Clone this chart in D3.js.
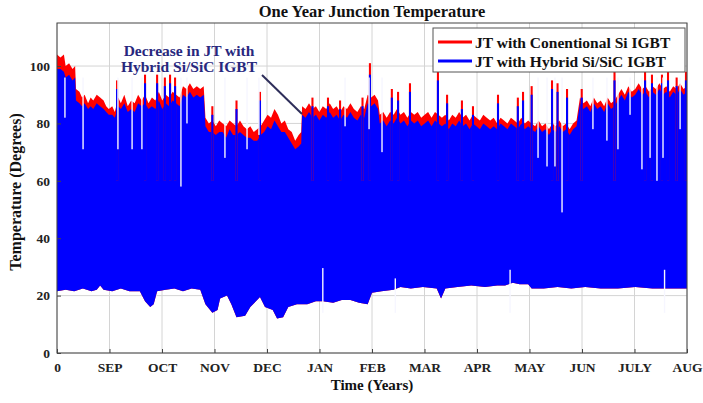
<!DOCTYPE html>
<html>
<head>
<meta charset="utf-8">
<script src="https://cdn.jsdelivr.net/npm/d3@7"></script>
<style>
  body { margin: 0; background: #fff; }
  text { font-family: "Liberation Serif", "Times New Roman", serif; font-weight: bold; }
</style>
</head>
<body>
<div id="chart"></div>
<script>
// Tick labels along the year (equal month spacing, in days)
var monthLabels = ["0", "SEP", "OCT", "NOV", "DEC", "JAN", "FEB", "MAR", "APR", "MAY", "JUN", "JULY", "AUG"];
var yTicks = [0, 20, 40, 60, 80, 100];

// Upper envelope of the daily maximum (day, conventional Si, hybrid Si/SiC)
var topDay = [0, 2, 4, 5, 7, 9, 10.5, 11, 13, 14.5, 16, 18, 19.5, 21, 23, 25, 27, 28.5, 30, 32, 33.5, 35.5, 37, 39, 41, 43, 45,
    47, 49, 51, 53, 55, 57, 59, 61, 63, 65, 67, 69, 71, 73, 75, 77, 79, 81, 83, 85,
    86, 88, 90, 92, 94, 96, 98, 100, 102, 104, 106, 108, 110, 112, 114, 116, 118, 120, 122, 124, 126, 128, 130, 132, 134, 136, 138, 140, 141.5,
    142, 144, 146, 148, 150, 152, 154, 156, 158, 160, 162, 164, 166, 168, 170, 172, 174, 176, 178, 180, 182, 184, 186,
    187, 189, 191, 193, 195, 197, 199, 201, 203, 205, 207, 209, 211, 213, 215, 217, 219, 221, 223, 225, 227, 229, 231, 233, 235, 237, 239, 241, 243, 245,
    247, 249, 251, 253, 255, 257, 259, 261, 263, 265, 267, 269, 271, 273, 275, 277, 279, 281, 283, 285, 287, 289, 291, 293, 295, 297, 299, 301,
    303, 305, 307, 309, 311, 313, 315, 317, 319, 321, 323, 325, 327, 329, 331, 333, 335, 337, 339, 341, 343, 345, 347, 349, 351, 353, 355, 357, 359, 361, 363, 365];
var redTop = [104, 103, 104, 100, 101, 99, 100, 92, 91, 89, 90, 87, 89, 88, 90, 89, 88, 86, 85, 86, 84, 89, 87, 90, 86, 88, 87,
    90, 88, 90, 87, 89, 88, 91, 88, 90, 89, 91, 90, 89, 93, 92, 94, 92, 93, 92, 93,
    82, 80, 81, 79, 81, 80, 79, 81, 80, 79, 81, 79, 78, 79, 77, 78, 79, 81, 83, 82, 85, 83, 80, 81, 78, 77, 74, 76, 77,
    86, 85, 87, 85, 86, 84, 86, 85, 87, 85, 86, 84, 86, 85, 87, 85, 84, 86, 85, 90, 89, 90, 88,
    83, 84, 82, 84, 83, 85, 83, 84, 82, 84, 83, 84, 82, 83, 84, 82, 84, 83, 82, 83, 81, 83, 82, 84, 82, 83, 81, 83, 82, 81,
    83, 82, 81, 82, 80, 82, 81, 80, 82, 81, 80, 82, 80, 81, 80, 79, 81, 79, 80, 78, 80, 79, 81, 79, 80, 78, 80, 81,
    89, 87, 88, 86, 89, 87, 88, 86, 89, 87, 88, 90, 92, 90, 93, 91, 92, 94, 92, 93, 91, 93, 92, 94, 92, 93, 91, 93, 92, 94, 92, 93];
var blueTop = [99, 99, 98, 96, 97, 95, 96, 88, 87, 86, 87, 85, 86, 85, 87, 86, 85, 84, 83, 83, 82, 86, 85, 87, 84, 85, 84,
    87, 86, 87, 85, 86, 85, 88, 85, 87, 86, 88, 87, 86, 90, 89, 91, 89, 90, 89, 90,
    79, 77, 77, 76, 77, 77, 75, 78, 76, 76, 77, 76, 75, 75, 74, 74, 76, 77, 79, 78, 81, 79, 77, 77, 75, 73, 71, 72, 73,
    83, 82, 84, 82, 83, 81, 83, 82, 84, 82, 83, 81, 83, 82, 84, 82, 81, 83, 82, 87, 86, 87, 85,
    80, 81, 79, 81, 80, 82, 80, 81, 79, 81, 80, 81, 79, 80, 81, 79, 81, 80, 79, 80, 78, 80, 79, 81, 79, 80, 78, 80, 79, 78,
    80, 79, 78, 79, 78, 80, 79, 78, 80, 79, 78, 80, 78, 79, 78, 77, 79, 77, 78, 76, 78, 77, 79, 77, 78, 76, 78, 79,
    87, 85, 86, 84, 87, 85, 86, 84, 87, 85, 86, 88, 90, 88, 91, 89, 90, 92, 90, 91, 89, 91, 90, 92, 90, 91, 89, 91, 90, 92, 90, 91];

// Lower envelope of the daily minimum (same for both devices)
var minDay = [0, 5, 10, 15, 20, 23, 25, 27, 32, 37, 42, 48, 51, 54, 56, 58, 63, 68, 73, 78,
    83, 86, 90, 93, 94.5, 98.5, 101, 104, 109, 112, 117.6, 120.5, 125, 127.5, 131, 134, 139, 145, 150, 154,
    160, 165, 170, 175, 180, 182.5, 188, 195, 199, 205, 212, 220, 222.5, 225, 232, 240, 248, 255, 259.6, 264,
    268, 273, 275, 282, 290, 298, 306, 315, 325, 335, 345, 355, 365];
var minTemp = [21.5, 22, 21.5, 22.5, 21.5, 22, 23.5, 22, 21.5, 22.5, 21.5, 21.5, 18, 16, 17, 21.5, 22, 22.5, 21.5, 22.5,
    22, 17, 14, 15, 19, 20, 17, 12.5, 13, 16, 19.5, 16, 15, 12, 12.5, 16, 17, 17, 18, 18,
    17.5, 18.5, 18.5, 17.5, 17, 21, 21.5, 22, 23, 22.5, 23, 22.5, 19, 22.5, 23, 23.5, 23, 23.5, 23.5, 24.5,
    24, 24, 22.5, 22.5, 23, 22.5, 23, 22.5, 22.5, 23, 22.5, 22.5, 22.5];

// Single hot days poking above the envelope
var peakDay  = [34.8, 51, 58, 62.5, 65.5, 68.4, 90, 104, 117.6, 148, 157, 164, 177, 181.3, 194, 197.6, 204.5, 220.7, 226, 234.6, 241, 255.5, 267, 270, 275, 286.8, 290, 295.5, 304, 323, 340.7, 344.7, 350.5, 354, 359, 364.4];
var peakRed  = [95, 97, 97, 96, 97, 96, 86, 88, 91, 89, 89, 88, 89, 101, 92, 91, 94, 98, 90, 88, 86, 90, 89, 91, 93, 95, 94, 92, 92, 98, 98, 97, 97, 98, 96, 98];
var peakBlue = [92, 94, 94, 93, 94, 93, 83, 85, 88, 86, 86, 85, 86, 97, 89, 88, 91, 95, 87, 85, 83, 87, 86, 88, 90, 92, 91, 89, 89, 95, 95, 94, 94, 95, 93, 95];

// Cool days: daily maximum drops well below the envelope
var dipDay = [4.6, 15.1, 35.3, 43.5, 49.2, 71.8, 75.3, 97.3, 110.1, 117, 166.9, 180.8, 188.3, 278.7, 283.9, 288.5, 292.6, 310.5, 318.6, 325, 332, 338.9, 343.6, 347.6, 351.1, 361];
var dipMax = [82, 71, 71, 71, 71, 58, 80, 68, 71, 76, 79, 78, 70, 68, 65, 65, 49, 78, 74, 71, 83, 64, 68, 60, 68, 78];

// Warm nights: daily minimum rises above the envelope
var riseDay = [154, 196, 262.5, 352];
var riseMin = [29.6, 26, 29, 29];

var svgWidth = 703;
var svgHeight = 403;
var margin = { top: 23, right: 16, bottom: 50, left: 57 };
var width = svgWidth - margin.left - margin.right;
var height = svgHeight - margin.top - margin.bottom;

var svg = d3.select("#chart")
    .append("svg")
    .attr("width", svgWidth)
    .attr("height", svgHeight);

var chartGroup = svg.append("g")
    .attr("transform", `translate(${margin.left}, ${margin.top})`);

var xScale = d3.scaleLinear().domain([0, 365]).range([0, width]);
var yScale = d3.scaleLinear().domain([0, 115]).range([height, 0]);
var monthTicks = monthLabels.map((m, i) => i * 365 / 12);

// Grid
chartGroup.append("g")
    .selectAll("line")
    .data(monthTicks)
    .enter()
    .append("line")
    .attr("x1", d => xScale(d)).attr("x2", d => xScale(d))
    .attr("y1", 0).attr("y2", height)
    .attr("stroke", "#d4d4d4").attr("stroke-width", 1);
chartGroup.append("g")
    .selectAll("line")
    .data(yTicks)
    .enter()
    .append("line")
    .attr("x1", 0).attr("x2", width)
    .attr("y1", d => yScale(d)).attr("y2", d => yScale(d))
    .attr("stroke", "#d4d4d4").attr("stroke-width", 1);

// Envelope areas
var topRows = topDay.map((d, i) => ({ day: d, red: redTop[i], blue: blueTop[i] }));
var minRows = minDay.map((d, i) => ({ day: d, v: minTemp[i] }));

// Closed band: top edge left->right, then min edge right->left
function bandPath(key) {
    var upper = d3.line().x(d => xScale(d.day)).y(d => yScale(d[key]))(topRows);
    var lower = d3.line().x(d => xScale(d.day)).y(d => yScale(d.v))(minRows.slice().reverse());
    return upper + "L" + lower.slice(1) + "Z";
}

chartGroup.append("path")
    .attr("d", bandPath("red"))
    .attr("fill", "#ff0000");
chartGroup.append("path")
    .attr("d", bandPath("blue"))
    .attr("fill", "#0000ff");

// Peaks
var peakRows = peakDay.map((d, i) => ({ day: d, red: peakRed[i], blue: peakBlue[i] }));
chartGroup.selectAll("rect.pr")
    .data(peakRows)
    .enter()
    .append("rect")
    .attr("class", "pr")
    .attr("x", d => xScale(d.day - 0.6))
    .attr("width", d => xScale(1.2) - xScale(0))
    .attr("y", d => yScale(d.red))
    .attr("height", d => yScale(60) - yScale(d.red))
    .attr("fill", "#ff0000");
chartGroup.selectAll("rect.pb")
    .data(peakRows)
    .enter()
    .append("rect")
    .attr("class", "pb")
    .attr("x", d => xScale(d.day - 0.6))
    .attr("width", d => xScale(1.2) - xScale(0))
    .attr("y", d => yScale(d.blue))
    .attr("height", d => yScale(60) - yScale(d.blue))
    .attr("fill", "#0000ff");

// Dips (pale gaps from the top)
var dipRows = dipDay.map((d, i) => ({ day: d, v: dipMax[i] }));
chartGroup.selectAll("rect.dip")
    .data(dipRows)
    .enter()
    .append("rect")
    .attr("class", "dip")
    .attr("x", d => xScale(d.day - 0.4))
    .attr("width", d => xScale(0.8) - xScale(0))
    .attr("y", yScale(96))
    .attr("height", d => yScale(d.v) - yScale(96))
    .attr("fill", "#f6f6ff");

// Rises (pale gaps from the bottom)
var riseRows = riseDay.map((d, i) => ({ day: d, v: riseMin[i] }));
chartGroup.selectAll("rect.rise")
    .data(riseRows)
    .enter()
    .append("rect")
    .attr("class", "rise")
    .attr("x", d => xScale(d.day - 0.4))
    .attr("width", d => xScale(0.8) - xScale(0))
    .attr("y", d => yScale(d.v))
    .attr("height", d => yScale(14) - yScale(d.v))
    .attr("fill", "#f6f6ff");

// Axes
var bottomAxis = d3.axisBottom(xScale)
    .tickValues(monthTicks)
    .tickFormat((d, i) => monthLabels[i])
    .tickSizeInner(-4).tickSizeOuter(0).tickPadding(9);
var leftAxis = d3.axisLeft(yScale)
    .tickValues(yTicks)
    .tickSizeInner(-4).tickSizeOuter(0).tickPadding(7);

var xg = chartGroup.append("g")
    .attr("transform", `translate(0, ${height})`)
    .call(bottomAxis);
var yg = chartGroup.append("g")
    .call(leftAxis);
[xg, yg].forEach(function (g) {
    g.select(".domain").remove();
    g.selectAll("line").attr("stroke", "#444");
    g.selectAll("text")
        .attr("fill", "#222")
        .style("font-size", "13.5px")
        .style("font-family", "'Liberation Serif', serif")
        .style("font-weight", "bold");
});

// Plot box
chartGroup.append("rect")
    .attr("width", width).attr("height", height)
    .attr("fill", "none").attr("stroke", "#444").attr("stroke-width", 1);

// Title and axis labels
svg.append("text")
    .attr("x", margin.left + width / 2).attr("y", 17)
    .attr("text-anchor", "middle")
    .style("font-size", "16.5px").attr("fill", "#111")
    .text("One Year Junction Temperature");
svg.append("text")
    .attr("x", margin.left + width / 2).attr("y", 390)
    .attr("text-anchor", "middle")
    .style("font-size", "15px").attr("fill", "#111")
    .text("Time (Years)");
svg.append("text")
    .attr("transform", `translate(21, ${margin.top + height / 2 + 4}) rotate(-90)`)
    .attr("text-anchor", "middle")
    .style("font-size", "16px").attr("fill", "#111")
    .text("Temperature (Degrees)");

// Legend
var legend = svg.append("g").attr("transform", "translate(433, 28)");
legend.append("rect")
    .attr("width", 252).attr("height", 44)
    .attr("fill", "#fff").attr("stroke", "#555").attr("stroke-width", 1);
var legendItems = [
    { label: "JT with Conentional Si IGBT", color: "#ff0000" },
    { label: "JT with Hybrid Si/SiC IGBT", color: "#0000ff" }
];
legendItems.forEach(function (item, i) {
    legend.append("line")
        .attr("x1", 5).attr("x2", 39)
        .attr("y1", 14 + i * 19).attr("y2", 14 + i * 19)
        .attr("stroke", item.color).attr("stroke-width", 3);
    legend.append("text")
        .attr("x", 42).attr("y", 19.5 + i * 19)
        .style("font-size", "15.5px").attr("fill", "#111")
        .text(item.label);
});

// Annotation
svg.append("text")
    .attr("x", 189).attr("y", 56)
    .attr("text-anchor", "middle")
    .style("font-size", "15.5px").attr("fill", "#28287e")
    .text("Decrease in JT with");
svg.append("text")
    .attr("x", 189).attr("y", 72)
    .attr("text-anchor", "middle")
    .style("font-size", "15.5px").attr("fill", "#28287e")
    .text("Hybrid Si/SiC IGBT");
svg.append("line")
    .attr("x1", 262).attr("y1", 75)
    .attr("x2", 302).attr("y2", 114)
    .attr("stroke", "#2e2e5a").attr("stroke-width", 2);
</script>
</body>
</html>
